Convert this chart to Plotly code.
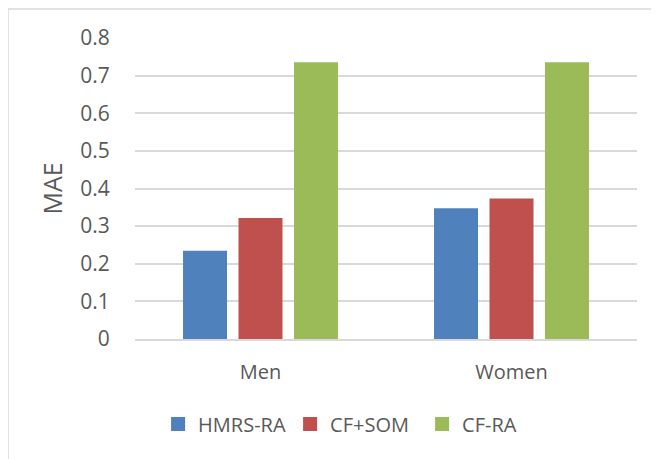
import plotly.graph_objects as go

categories = ["Men", "Women"]
series_names = ["HMRS-RA", "CF+SOM", "CF-RA"]
hmrs_ra = [0.232, 0.345]
cf_som = [0.319, 0.371]
cf_ra = [0.733, 0.733]
colors = ["#4F81BD", "#C0504D", "#9BBB59"]
y_ticks = [0, 0.1, 0.2, 0.3, 0.4, 0.5, 0.6, 0.7, 0.8]
y_tick_labels = ["0", "0.1", "0.2", "0.3", "0.4", "0.5", "0.6", "0.7", "0.8"]

FONT = "Open Sans"
TXT = "#595959"

fig = go.Figure()
for name, vals, c in zip(series_names, [hmrs_ra, cf_som, cf_ra], colors):
    fig.add_trace(go.Bar(name=name, x=categories, y=vals,
                         marker=dict(color=c, line=dict(width=2, color=c))))

fig.update_layout(
    width=659, height=459,
    margin=dict(l=127, r=30, t=30, b=128, autoexpand=False),
    paper_bgcolor="white", plot_bgcolor="white",
    barmode="group", bargap=0.337, bargroupgap=0.243,
    font=dict(family=FONT, color=TXT, size=20),
    showlegend=True,
    legend=dict(orientation="h", x=0.046, xanchor="left", y=-0.282, yanchor="middle",
                font=dict(family=FONT, size=20, color=TXT), itemwidth=30,
                entrywidth=87, entrywidthmode="pixels",
                traceorder="normal"),
    shapes=[dict(type="rect", xref="paper", yref="paper", x0=-0.253, x1=1.5, y0=-1.0, y1=1.096,
                 line=dict(color="#D9D9D9", width=1.5), fillcolor="rgba(0,0,0,0)", layer="below")],
)
fig.update_xaxes(showgrid=False, showline=True, linecolor="#D9D9D9", linewidth=1.5,
                 automargin=False,
                 ticks="outside", ticklen=14, tickcolor="rgba(0,0,0,0)",
                 tickfont=dict(family=FONT, size=20, color=TXT))
fig.update_yaxes(range=[0, 0.8], tickvals=y_ticks, ticktext=y_tick_labels,
                 automargin=False,
                 showgrid=True, gridcolor="#D9D9D9", gridwidth=1.5, zeroline=False,
                 showline=False, ticks="outside", ticklen=20, tickcolor="rgba(0,0,0,0)",
                 tickfont=dict(family=FONT, size=21, color=TXT),
                 title=dict(text="MAE", font=dict(family=FONT, size=25, color=TXT), standoff=10))

fig.write_html("out.html")
